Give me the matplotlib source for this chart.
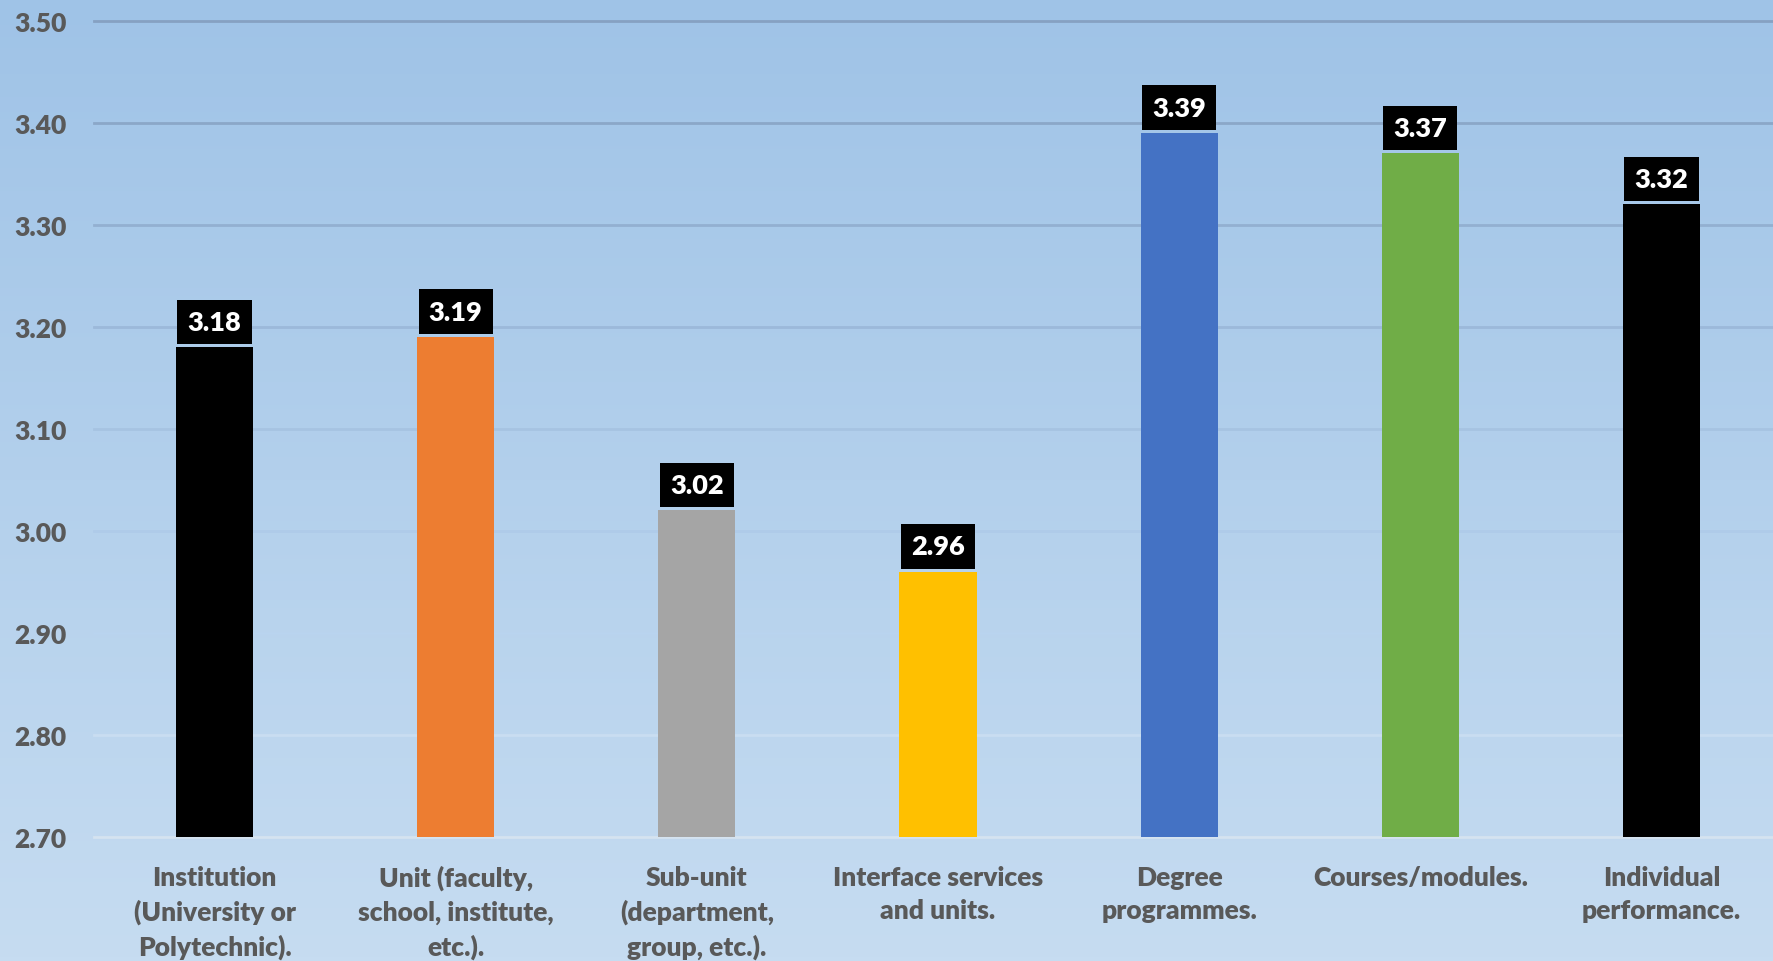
import numpy as np
import matplotlib
matplotlib.use("Agg")
import matplotlib.pyplot as plt
from matplotlib.colors import LinearSegmentedColormap

# data
categories = ["Institution\n(University or\nPolytechnic).",
              "Unit (faculty,\nschool, institute,\netc.).",
              "Sub-unit\n(department,\ngroup, etc.).",
              "Interface services\nand units.",
              "Degree\nprogrammes.",
              "Courses/modules.",
              "Individual\nperformance."]
values = [3.18, 3.19, 3.02, 2.96, 3.39, 3.37, 3.32]
bar_colors = ["#000000", "#ed7d31", "#a5a5a5", "#ffc000", "#4472c4", "#70ad47", "#000000"]
yticks = [2.70, 2.80, 2.90, 3.00, 3.10, 3.20, 3.30, 3.40, 3.50]

plt.rcParams['font.family'] = ['Lato', 'DejaVu Sans']
FW = 'heavy'

W, H, dpi = 1774, 962, 100
fig = plt.figure(figsize=(W / dpi, H / dpi), dpi=dpi)

# gradient background over the whole figure
bg = fig.add_axes([0, 0, 1, 1], zorder=-10)
cmap = LinearSegmentedColormap.from_list("bg", ["#9fc3e7", "#b3d0ec", "#c6dcf1"])
bg.imshow(np.linspace(0, 1, 256).reshape(-1, 1), aspect="auto", cmap=cmap,
          extent=[0, 1, 0, 1])
bg.set_axis_off()

left, right = 94 / W, 1782 / W
top, bottom = 1 - 21.5 / H, 1 - 838 / H
ax = fig.add_axes([left, bottom, right - left, top - bottom])
ax.patch.set_alpha(0)

x = np.arange(len(categories))
ax.bar(x, values, width=0.32, color=bar_colors, bottom=0, zorder=3)
ax.set_xlim(-0.5, len(categories) - 0.5)
ax.set_ylim(2.70, 3.50)

# gridlines, darker at the top and fading out lower down
grid_cols = ["#d5e3f0", "#c9ddf1", "#b9d4ef", "#afcbe9", "#a6c3e2",
             "#9cb9da", "#93b0d1", "#8ba7c8", "#86a1c2"]
for yv, gc in zip(yticks, grid_cols):
    ax.axhline(yv, color=gc, lw=2, zorder=1, clip_on=False)

ax.set_yticks(yticks)
ax.set_yticklabels([f"{v:.2f}" for v in yticks], fontweight=FW)
ax.set_xticks(x)
ax.set_xticklabels(categories, linespacing=1.45, fontweight=FW)
ax.tick_params(axis="y", length=0, pad=20, labelsize=19, labelcolor="#595959")
ax.tick_params(axis="x", length=0, pad=20, labelsize=19, labelcolor="#595959")
for s in ax.spines.values():
    s.set_visible(False)

for xi, v in zip(x, values):
    ax.annotate(f"{v:.2f}", (xi, v), xytext=(0, 9.5), textcoords="offset points",
                ha="center", va="bottom", color="white", fontsize=19.5,
                fontweight=FW, zorder=5,
                bbox=dict(boxstyle="square,pad=0.38", fc="black", ec="none"))

fig.savefig("out.png", dpi=dpi)
